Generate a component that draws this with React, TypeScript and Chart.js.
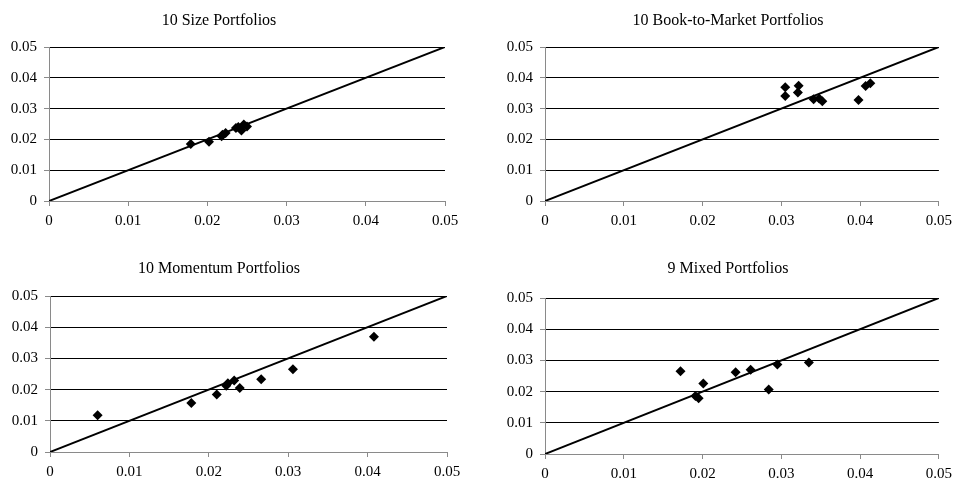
import React, { useEffect, useRef } from "react";
import { Chart, registerables } from "chart.js";

Chart.register(...registerables);

const sizeX = [0.0179, 0.0202, 0.0218, 0.0219, 0.0223, 0.0236, 0.0239, 0.0243, 0.0246, 0.025];
const sizeY = [0.0185, 0.0192, 0.021, 0.0215, 0.0221, 0.0237, 0.024, 0.0229, 0.0248, 0.0242];

const bmX = [0.0305, 0.0305, 0.0321, 0.0322, 0.0341, 0.0348, 0.0352, 0.0398, 0.0407, 0.0413];
const bmY = [0.0369, 0.0341, 0.0352, 0.0374, 0.033, 0.0333, 0.0324, 0.0328, 0.0373, 0.0382];

const momX = [0.006, 0.0178, 0.021, 0.0222, 0.0224, 0.0232, 0.0239, 0.0266, 0.0306, 0.0408];
const momY = [0.0118, 0.0157, 0.0184, 0.0212, 0.022, 0.0229, 0.0205, 0.0233, 0.0265, 0.0369];

const mixX = [0.0172, 0.0191, 0.0195, 0.0201, 0.0242, 0.0261, 0.0284, 0.0295, 0.0335];
const mixY = [0.0265, 0.0186, 0.0179, 0.0226, 0.0262, 0.027, 0.0207, 0.0287, 0.0293];

const lineX = [0, 0.05];
const lineY = [0, 0.05];

const tickLabels = ["0", "0.01", "0.02", "0.03", "0.04", "0.05"];

const titles = [
  "10 Size Portfolios",
  "10 Book-to-Market Portfolios",
  "10 Momentum Portfolios",
  "9 Mixed Portfolios",
];

type PanelProps = {
  title: string;
  xs: number[];
  ys: number[];
  left: number;
  top: number;
  width: number;
  height: number;
  pad: { top: number; right: number; bottom: number; left: number };
  xHeight: number;
  titleX: number;
  titleY: number;
};

const FONT = "'Liberation Serif', 'Times New Roman', serif";
const AXIS_GRAY = "#8a8a8a";

function Panel(p: PanelProps) {
  const ref = useRef<HTMLCanvasElement | null>(null);
  useEffect(() => {
    if (!ref.current) return;
    const titlePlugin = {
      id: "panelTitle",
      afterDraw(chart: any) {
        const ctx = chart.ctx;
        ctx.save();
        ctx.font = `16px ${FONT}`;
        ctx.fillStyle = "#000";
        ctx.textAlign = "center";
        ctx.textBaseline = "middle";
        ctx.fillText(p.title, p.titleX, p.titleY);
        ctx.restore();
      },
    };
    const chart = new Chart(ref.current, {
      type: "scatter",
      data: {
        datasets: [
          {
            data: p.xs.map((x, i) => ({ x, y: p.ys[i] })),
            pointStyle: "rectRot",
            pointRadius: 5,
            pointHoverRadius: 5,
            backgroundColor: "#000",
            borderColor: "#000",
            borderWidth: 0,
            order: 0,
          },
          {
            type: "line",
            data: lineX.map((x, i) => ({ x, y: lineY[i] })),
            borderColor: "#000",
            borderWidth: 2,
            pointRadius: 0,
            showLine: true,
            fill: false,
            order: 1,
          } as any,
        ],
      },
      options: {
        animation: false,
        responsive: false,
        maintainAspectRatio: false,
        layout: { padding: p.pad },
        plugins: {
          legend: { display: false },
          tooltip: { enabled: false },
          title: { display: false },
        },
        scales: {
          x: {
            type: "linear",
            min: 0,
            max: 0.05,
            afterFit(scale: any) {
              scale.height = p.xHeight;
            },
            ticks: {
              stepSize: 0.01,
              padding: 6,
              color: "#000",
              font: { family: FONT, size: 15 },
              maxRotation: 0,
              autoSkip: false,
              callback: (_v: any, i: number) => tickLabels[i],
            },
            grid: {
              drawOnChartArea: false,
              drawTicks: true,
              tickLength: 5,
              tickColor: AXIS_GRAY,
            },
            border: { color: AXIS_GRAY, width: 1 },
          },
          y: {
            type: "linear",
            min: 0,
            max: 0.05,
            afterFit(scale: any) {
              scale.width = 49;
            },
            ticks: {
              stepSize: 0.01,
              padding: 7,
              color: "#000",
              font: { family: FONT, size: 15 },
              autoSkip: false,
              callback: (_v: any, i: number) => tickLabels[i],
            },
            grid: {
              drawOnChartArea: true,
              drawTicks: true,
              tickLength: 5,
              color: (c: any) => (c.index === 0 ? AXIS_GRAY : "#000"),
              tickColor: AXIS_GRAY,
              lineWidth: 1,
            },
            border: { color: AXIS_GRAY, width: 1 },
          },
        },
      },
      plugins: [titlePlugin],
    });
    return () => chart.destroy();
  }, []);
  return (
    <div style={{ position: "absolute", left: p.left, top: p.top, width: p.width, height: p.height }}>
      <canvas ref={ref} width={p.width} height={p.height} style={{ width: p.width, height: p.height }} />
    </div>
  );
}

export default function App() {
  return (
    <div style={{ position: "fixed", left: 0, top: 0, width: 958, height: 478, background: "#fff" }}>
      <Panel
        title={titles[0]}
        xs={sizeX}
        ys={sizeY}
        left={0}
        top={0}
        width={479}
        height={239}
        pad={{ top: 47, right: 34, bottom: 6, left: 0 }}
        xHeight={32}
        titleX={219}
        titleY={21}
      />
      <Panel
        title={titles[1]}
        xs={bmX}
        ys={bmY}
        left={479}
        top={0}
        width={479}
        height={239}
        pad={{ top: 47, right: 17, bottom: 6, left: 17 }}
        xHeight={32}
        titleX={249}
        titleY={21}
      />
      <Panel
        title={titles[2]}
        xs={momX}
        ys={momY}
        left={0}
        top={239}
        width={479}
        height={239}
        pad={{ top: 57, right: 32, bottom: 0, left: 1 }}
        xHeight={26}
        titleX={219}
        titleY={30}
      />
      <Panel
        title={titles[3]}
        xs={mixX}
        ys={mixY}
        left={479}
        top={239}
        width={479}
        height={239}
        pad={{ top: 59, right: 18, bottom: 0, left: 17 }}
        xHeight={24}
        titleX={249}
        titleY={30}
      />
    </div>
  );
}
